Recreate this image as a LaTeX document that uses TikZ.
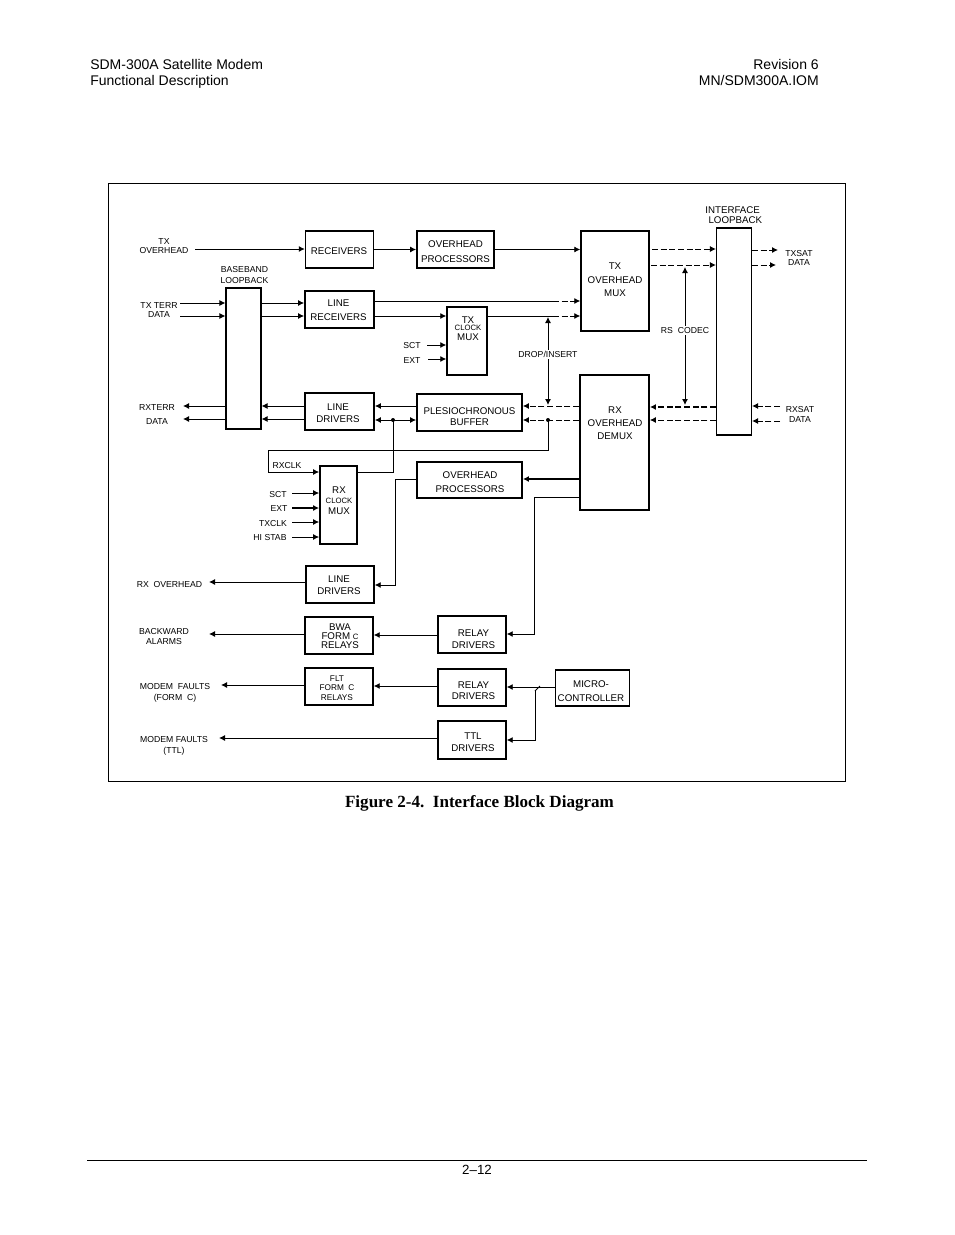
\documentclass[tikz,border=0pt]{standalone}
\usepackage{fontspec}
\usetikzlibrary{arrows.meta}
\setmainfont{Liberation Sans}
\newfontfamily\capfont{Liberation Serif}
\newcommand{\tinyc}{\fontsize{5.8}{6.4}\selectfont}
\newcommand{\boxc}{\fontsize{7.3}{9}\selectfont}
\tikzset{
  blockbox/.style={draw, line width=1.1pt, inner sep=0pt},
  sigtext/.style={inner sep=0pt, align=center, font=\fontsize{6.5}{6.8}\selectfont},
  boxtext/.style={inner sep=0pt, align=center, font=\boxc},
  headtext/.style={inner sep=0pt, font=\fontsize{10.5}{12}\selectfont},
  sigline/.style={->, >={Latex[length=4.5pt,width=4.5pt]}, line width=0.7pt},
  dashedge/.style={dash pattern=on 4.5pt off 2pt},
}
\begin{document}
\begin{tikzpicture}[x=0.75pt, y=-0.75pt]
    \useasboundingbox (0,0) rectangle (954,1235);

    % page furniture
    \node[headtext, anchor=base west] (headl) at (90,69) {SDM-300A Satellite Modem};
    \node[headtext, anchor=base west] (headm) at (90,85) {Functional Description};
    \node[headtext, anchor=base east] (headr) at (819,69) {Revision 6};
    \node[headtext, anchor=base east] (heads) at (819,85) {MN/SDM300A.IOM};
    \node[draw, line width=0.7pt, minimum width=552.75pt, minimum height=448.5pt, inner sep=0pt] (frame) at (476.5,482) {};
    \node[inner sep=0pt, font=\capfont\bfseries\fontsize{12.8}{14}\selectfont] (caption) at (479.5,803) {Figure 2-4.\ \ Interface Block Diagram};
    \coordinate (footl) at (87,1160);
    \coordinate (footr) at (867,1160);
    \draw[line width=0.7pt] (footl) -- (footr);
    \node[inner sep=0pt, font=\fontsize{10}{12}\selectfont] (pageno) at (477,1170) {2--12};

    % blocks
    \node[blockbox, minimum width=51pt, minimum height=28pt] (rcv) at (339.5,249.5) {};
    \node[blockbox, minimum width=58pt, minimum height=28pt] (ovhtx) at (455.5,249.5) {};
    \node[blockbox, minimum width=51pt, minimum height=75pt] (txmux) at (615,281) {};
    \node[blockbox, minimum width=26pt, minimum height=155.5pt] (ifloop) at (734,331.5) {};
    \node[blockbox, minimum width=26pt, minimum height=106pt] (bbloop) at (243.5,358.5) {};
    \node[blockbox, minimum width=52pt, minimum height=28pt] (linerx) at (339.5,309.5) {};
    \node[blockbox, minimum width=30pt, minimum height=51pt] (txclk) at (467,341) {};
    \node[blockbox, minimum width=52pt, minimum height=28pt] (linedrv) at (339.5,411.5) {};
    \node[blockbox, minimum width=79pt, minimum height=28pt] (plesio) at (469.5,412.5) {};
    \node[blockbox, minimum width=52pt, minimum height=101pt] (rxdemux) at (614.5,442.5) {};
    \node[blockbox, minimum width=28pt, minimum height=58.5pt] (rxclk) at (338.5,505) {};
    \node[blockbox, minimum width=79pt, minimum height=27pt] (ovhrx) at (469.5,480) {};
    \node[blockbox, minimum width=51pt, minimum height=28pt] (linedrvb) at (340,584.5) {};
    \node[blockbox, minimum width=51pt, minimum height=28pt] (bwa) at (339,635.5) {};
    \node[blockbox, minimum width=51pt, minimum height=28pt] (relaya) at (472,634.5) {};
    \node[blockbox, minimum width=51pt, minimum height=28pt] (flt) at (339,686.5) {};
    \node[blockbox, minimum width=51pt, minimum height=28pt] (relayb) at (472,687.5) {};
    \node[blockbox, minimum width=51pt, minimum height=28.5pt] (ttl) at (472,740) {};
    \node[blockbox, minimum width=55.5pt, minimum height=27pt] (micro) at (592.5,688) {};

    % block text
    \node[boxtext] (rcvt) at (339,251.5) {RECEIVERS};
    \node[boxtext] (ovhtxt) at (455.5,251.5) {OVERHEAD\\[2.5pt]PROCESSORS};
    \node[boxtext] (txmuxt) at (615,280) {TX\\[1pt]OVERHEAD\\[1pt]MUX};
    \node[boxtext] (linerxt) at (338.5,310.5) {LINE\\[1.5pt]RECEIVERS};
    \node[boxtext] (linedrvt) at (338,413) {LINE\\[-.4pt]DRIVERS};
    \node[boxtext] (plesiot) at (469.5,417) {PLESIOCHRONOUS\\[-.7pt]BUFFER};
    \node[boxtext] (ovhrxt) at (470,482.5) {OVERHEAD\\[1.5pt]PROCESSORS};
    \node[boxtext] (linedrvbt) at (339,585.5) {LINE\\DRIVERS};
    \node[boxtext] (relayat) at (473.5,639) {RELAY\\[-.4pt]DRIVERS};
    \node[boxtext] (relaybt) at (473.5,690.5) {RELAY\\[-.7pt]DRIVERS};
    \node[boxtext] (ttlt) at (473,742.5) {TTL\\DRIVERS};
    \node[boxtext] (microt) at (591,691.5) {MICRO-\\[1.5pt]CONTROLLER};
    \node[boxtext] (txclkt) at (468,328.5) {TX\\[-3.5pt]{\tinyc CLOCK}\\[-2pt]MUX};
    \node[boxtext] (rxdemuxt) at (615,423) {RX\\[.7pt]OVERHEAD\\[.7pt]DEMUX};
    \node[boxtext] (rxclkt) at (339,500.5) {RX\\[-1pt]{\tinyc CLOCK}\\[-1pt]MUX};
    \node[boxtext, font=\fontsize{7.3}{6.8}\selectfont] (bwat) at (340,636) {BWA\\FORM {\tinyc C}\\RELAYS};
    \node[boxtext, font=\fontsize{6.2}{7.2}\selectfont] (fltt) at (337,688) {FLT\\FORM\ \ C\\RELAYS};

    % signal names
    \node[sigtext] (txovh) at (164,246) {TX\\OVERHEAD};
    \node[sigtext, font=\fontsize{6.5}{7}\selectfont] (bbname) at (244.5,275) {BASEBAND\\[1pt]LOOPBACK};
    \node[sigtext] (txterr) at (159,310) {TX TERR\\[0.5pt]DATA};
    \node[sigtext] (rxterr) at (157,414.5) {RXTERR\\[3pt]DATA};
    \node[sigtext] (sctt) at (412,346) {SCT};
    \node[sigtext] (extt) at (412,361) {EXT};
    \node[sigtext] (rxclkn) at (287,466) {RXCLK};
    \node[sigtext] (sctr) at (278,495) {SCT};
    \node[sigtext] (extr) at (279,509) {EXT};
    \node[sigtext] (txclkr) at (273,524) {TXCLK};
    \node[sigtext] (histab) at (270,538) {HI STAB};
    \node[sigtext] (rxovh) at (169.5,585) {RX\ \ OVERHEAD};
    \node[sigtext] (backw) at (164,636.5) {BACKWARD\\ALARMS};
    \node[sigtext] (fcform) at (175,692.5) {MODEM\ \ FAULTS\\[1.5pt](FORM\ \ C)};
    \node[sigtext] (fcttl) at (174,745.5) {MODEM FAULTS\\[1.5pt](TTL)};
    \node[sigtext, font=\fontsize{7.3}{8}\selectfont] (ifname) at (734,215) {INTERFACE\hspace*{2pt}\\\hspace*{2pt}LOOPBACK};
    \node[sigtext] (txsat) at (799,258) {TXSAT\\DATA};
    \node[sigtext] (rxsat) at (800,414.5) {RXSAT\\DATA};

    % free ends
    \coordinate (txin) at (195,249);
    \coordinate (rxfold) at (268,450);
    \coordinate (rxrise) at (393,472);
    \coordinate (ovhdrop) at (395,479);
    \coordinate (relayrun) at (534,497.5);
    \coordinate (microdrop) at (535,691);

    % top row and transmit side
    \draw[sigline] (txin) -- (rcv.west |- txin);
    \draw[sigline] (rcv.east) -- (ovhtx.west);
    \draw[sigline] (ovhtx.east) -- (txmux.west |- ovhtx.east);
    \draw[sigline] (180,303) -- (bbloop.west |- 0,303);
    \draw[sigline] (180,316) -- (bbloop.west |- 0,316);
    \draw[sigline] (bbloop.east |- 0,303) -- (linerx.west |- 0,303);
    \draw[sigline] (bbloop.east |- 0,316) -- (linerx.west |- 0,316);
    \draw[line width=0.7pt] (linerx.east |- 0,301) -- (553,301);
    \draw[sigline, dashedge] (553,301) -- (txmux.west |- 0,301);
    \draw[sigline] (linerx.east |- 0,316) -- (txclk.west |- 0,316);
    \draw[line width=0.7pt] (txclk.east |- 0,316) -- (553,316);
    \draw[sigline, dashedge] (553,316) -- (txmux.west |- 0,316);
    \draw[sigline] (427,345) -- (txclk.west |- 0,345);
    \draw[sigline] (428,359) -- (txclk.west |- 0,359);
    \draw[sigline, dashedge] (652,249) -- (ifloop.west |- 0,249);
    \draw[sigline, dashedge] (651,265) -- (ifloop.west |- 0,265);
    \draw[sigline, dashedge] (ifloop.east |- 0,250) -- (778,250);
    \draw[sigline, dashedge] (ifloop.east |- 0,265) -- (776,265);

    % receive side
    \draw[sigline, dashedge] (780,406) -- (ifloop.east |- 0,406);
    \draw[sigline, dashedge] (780,421) -- (ifloop.east |- 0,421);
    \draw[sigline, dashedge, line width=1pt] (ifloop.west |- 0,407) -- (rxdemux.east |- 0,407);
    \draw[sigline, dashedge] (ifloop.west |- 0,420) -- (rxdemux.east |- 0,420);
    \draw[sigline, dashedge] (rxdemux.west |- 0,406) -- (plesio.east |- 0,406);
    \draw[sigline, dashedge] (rxdemux.west |- 0,420) -- (plesio.east |- 0,420);
    \draw[sigline] (plesio.west |- 0,406) -- (linedrv.east |- 0,406);
    \draw[sigline, <->] (linedrv.east |- 0,420) -- (plesio.west |- 0,420);
    \draw[sigline] (linedrv.west |- 0,406) -- (bbloop.east |- 0,406);
    \draw[sigline] (linedrv.west |- 0,419) -- (bbloop.east |- 0,419);
    \draw[sigline] (bbloop.west |- 0,406) -- (183,406);
    \draw[sigline] (bbloop.west |- 0,419) -- (183,419);

    % clock and drop/insert
    \fill (548,420) circle (1.5pt);
    \fill (393,420) circle (1.5pt);
    \draw[line width=0.7pt] (548,420) -- (548,450) -- (rxfold);
    \draw[sigline] (rxfold) -- (268,472) -- (rxclk.west |- 0,472);
    \draw[line width=0.7pt] (rxclk.east |- rxrise) -- (rxrise) -- (393,420);
    \draw[sigline] (292,493) -- (rxclk.west |- 0,493);
    \draw[sigline, line width=1pt] (292,508) -- (rxclk.west |- 0,508);
    \draw[sigline] (292,522) -- (rxclk.west |- 0,522);
    \draw[sigline] (292,537) -- (rxclk.west |- 0,537);
    \draw[sigline, <->] (548,317) -- (548,405) node[pos=0.43, sigtext, fill=white, inner ysep=1pt] (dropins) {DROP/INSERT};
    \draw[sigline, <->] (685,267) -- (685,405) node[pos=0.46, sigtext, fill=white, inner ysep=1pt] (rscodec) {RS\ \ CODEC};

    % overhead and alarm outputs
    \draw[sigline, line width=1pt] (rxdemux.west |- 0,479) -- (ovhrx.east |- 0,479);
    \draw[sigline] (ovhrx.west |- ovhdrop) -- (ovhdrop) -- (395,585) -- (linedrvb.east |- 0,585);
    \draw[sigline] (rxdemux.west |- relayrun) -- (relayrun) -- (534,634) -- (relaya.east |- 0,634);
    \draw[sigline] (linedrvb.west |- 0,582) -- (209,582);
    \draw[sigline] (relaya.west |- 0,635) -- (bwa.east |- 0,635);
    \draw[sigline] (bwa.west |- 0,634) -- (209,634);
    \draw[sigline] (relayb.west |- 0,686) -- (flt.east |- 0,686);
    \draw[sigline] (flt.west |- 0,685) -- (221,685);
    \draw[sigline] (ttl.west |- 0,738) -- (219,738);
    \draw[sigline] (micro.west |- 0,687) -- (relayb.east |- 0,687);
    \draw[line width=0.7pt] (microdrop) -- (540,686);
    \draw[sigline] (microdrop) -- (535,740) -- (ttl.east |- 0,740);
\end{tikzpicture}
\end{document}
